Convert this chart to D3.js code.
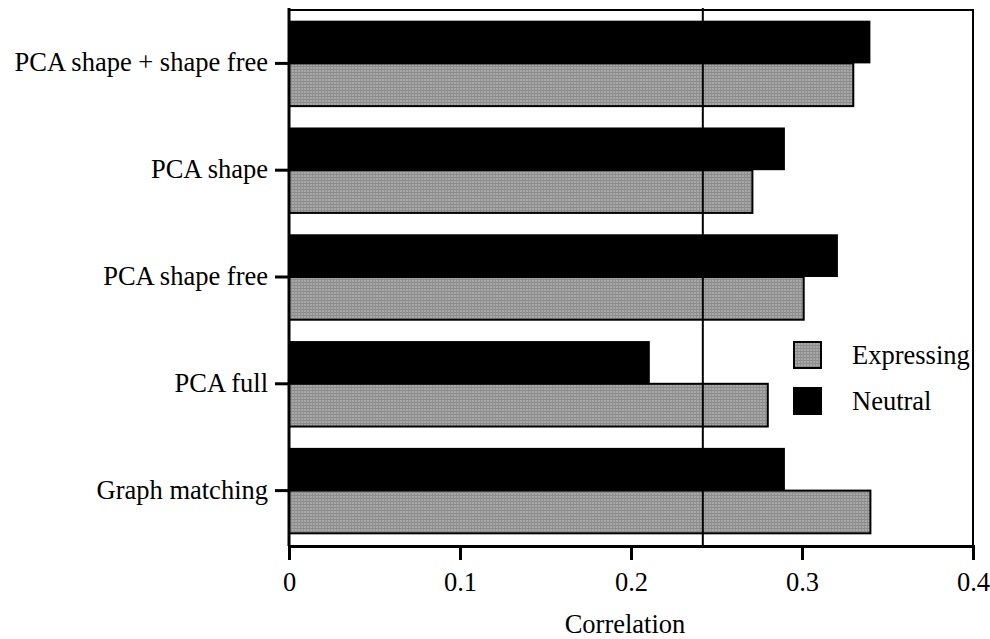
<!DOCTYPE html>
<html lang="en">
<head>
    <meta charset="UTF-8">
    <title>Correlation by method</title>
    <script src="https://cdn.jsdelivr.net/npm/d3@7/dist/d3.min.js"></script>
    <style>
        body { margin: 0; background: #fff; }
        svg text { font-family: "Liberation Serif", "Times New Roman", Times, serif; font-size: 26.5px; fill: #000; }
    </style>
</head>
<body>
    <svg width="990" height="639" id="chart"></svg>
    <script>
        // data
        const methods = ["PCA shape + shape free", "PCA shape", "PCA shape free", "PCA full", "Graph matching"];
        const neutral = [0.34, 0.29, 0.321, 0.211, 0.29];
        const expressing = [0.33, 0.271, 0.301, 0.28, 0.34];
        const xTicks = [0, 0.1, 0.2, 0.3, 0.4];
        const refValue = 0.242;
        const seriesNames = ["Expressing", "Neutral"];

        const svg = d3.select('#chart');
        const plotLeft = 289, plotRight = 973, plotTop = 10, plotBottom = 546;

        // stipple pattern for the grey bars
        const pat = svg.append('defs').append('pattern')
            .attr('id', 'stipple')
            .attr('patternUnits', 'userSpaceOnUse')
            .attr('width', 3).attr('height', 3);
        pat.append('rect').attr('width', 3).attr('height', 3).attr('fill', '#a8a8a8');
        pat.append('rect').attr('width', 3).attr('height', 1).attr('fill', '#8a8a8a');
        pat.append('rect').attr('width', 1).attr('height', 3).attr('fill', '#909090');

        const x = d3.scaleLinear().domain([0, 0.4]).range([plotLeft, plotRight]);
        const y = d3.scaleBand().domain(methods).range([plotTop, plotBottom - 2])
            .paddingInner(0.2).paddingOuter(0.1);
        const half = y.bandwidth() / 2;

        const rows = methods.map(function(m, i) {
            return { method: m, neutral: neutral[i], expressing: expressing[i] };
        });

        // neutral bars (black, upper half)
        svg.selectAll('rect.neutral')
            .data(rows)
            .enter()
            .append('rect')
            .attr('class', 'neutral')
            .attr('fill', '#000')
            .attr('x', x(0))
            .attr('y', d => y(d.method))
            .attr('width', d => x(d.neutral) - x(0))
            .attr('height', half);

        // expressing bars (grey, lower half)
        svg.selectAll('rect.expressing')
            .data(rows)
            .enter()
            .append('rect')
            .attr('class', 'expressing')
            .attr('fill', 'url(#stipple)')
            .attr('stroke', '#000')
            .attr('stroke-width', 2)
            .attr('x', x(0))
            .attr('y', d => y(d.method) + half)
            .attr('width', d => x(d.expressing) - x(0))
            .attr('height', half);

        // frame
        svg.append('path')
            .attr('d', `M${plotLeft},${plotTop} H${plotRight} V${plotBottom}`)
            .attr('fill', 'none').attr('stroke', '#000').attr('stroke-width', 2);

        // reference line
        svg.append('line')
            .attr('x1', x(refValue)).attr('x2', x(refValue))
            .attr('y1', plotTop - 2).attr('y2', plotBottom)
            .attr('stroke', '#000').attr('stroke-width', 2);

        // x axis
        const xAxis = svg.append('g')
            .attr('transform', `translate(0,${plotBottom})`)
            .call(d3.axisBottom(x).tickValues(xTicks).tickSize(14)
                .tickFormat(d => d === 0 ? '0' : d3.format('.1f')(d)));
        xAxis.attr('font-family', null).attr('font-size', null);
        xAxis.select('.domain').attr('stroke-width', 3);
        xAxis.selectAll('.tick line').attr('stroke-width', 3);
        xAxis.selectAll('.tick text').attr('y', 45).attr('dy', null);

        // y axis
        const yAxis = svg.append('g')
            .attr('transform', `translate(${plotLeft},0)`)
            .call(d3.axisLeft(y).tickSize(14).tickPadding(7));
        yAxis.attr('font-family', null).attr('font-size', null);
        yAxis.select('.domain').attr('d', `M0,${plotTop - 2}V${plotBottom}`).attr('stroke-width', 3);
        yAxis.selectAll('.tick line').attr('stroke-width', 3);
        yAxis.selectAll('.tick text').attr('dy', '0.3em');

        svg.append('text')
            .attr('x', 625).attr('y', 633)
            .attr('text-anchor', 'middle')
            .text('Correlation');

        // legend
        const legend = svg.selectAll('g.legend')
            .data(seriesNames)
            .enter()
            .append('g')
            .attr('class', 'legend')
            .attr('transform', (d, i) => `translate(794,${342 + i * 46})`);
        legend.append('rect')
            .attr('width', 27).attr('height', 26)
            .attr('fill', d => d === 'Expressing' ? 'url(#stipple)' : '#000')
            .attr('stroke', '#000').attr('stroke-width', 2);
        legend.append('text')
            .attr('x', 58).attr('y', 22)
            .text(d => d);
    </script>
</body>
</html>
